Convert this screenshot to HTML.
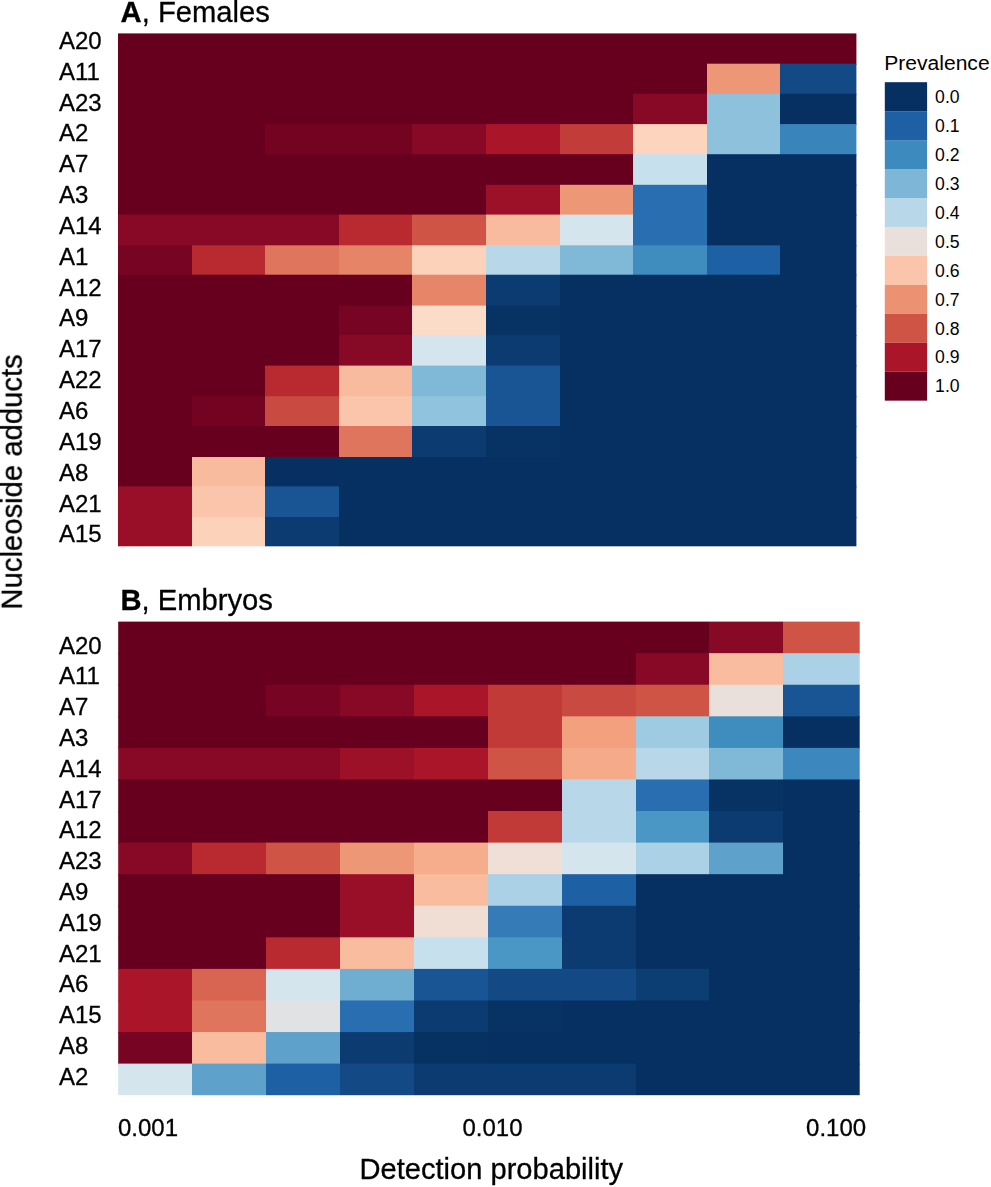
<!DOCTYPE html>
<html><head><meta charset="utf-8"><title>Heatmap</title>
<style>
html,body{margin:0;padding:0;background:#fff;}
body{width:991px;height:1187px;overflow:hidden;}
svg{display:block;font-family:"Liberation Sans",sans-serif;}
text{fill:#000;}
.gs{opacity:0.999;}
.gs text{stroke:#000;stroke-width:0.3px;}
</style></head><body>
<svg width="991" height="1187" viewBox="0 0 991 1187">
<rect x="0" y="0" width="991" height="1187" fill="#fff"/>
<defs><linearGradient id="a1" gradientUnits="userSpaceOnUse" x1="118.00" y1="0" x2="856.40" y2="0"><stop offset="0.00000" stop-color="#67001F"/><stop offset="0.79740" stop-color="#67001F"/><stop offset="0.79740" stop-color="#EE9776"/><stop offset="0.89707" stop-color="#EE9776"/><stop offset="0.89707" stop-color="#134A86"/><stop offset="1.00000" stop-color="#134A86"/></linearGradient>
<linearGradient id="a2" gradientUnits="userSpaceOnUse" x1="118.00" y1="0" x2="856.40" y2="0"><stop offset="0.00000" stop-color="#67001F"/><stop offset="0.69772" stop-color="#67001F"/><stop offset="0.69772" stop-color="#880925"/><stop offset="0.79740" stop-color="#880925"/><stop offset="0.79740" stop-color="#8DC1DC"/><stop offset="0.89707" stop-color="#8DC1DC"/><stop offset="0.89707" stop-color="#053061"/><stop offset="1.00000" stop-color="#053061"/></linearGradient>
<linearGradient id="a3" gradientUnits="userSpaceOnUse" x1="118.00" y1="0" x2="856.40" y2="0"><stop offset="0.00000" stop-color="#67001F"/><stop offset="0.19935" stop-color="#67001F"/><stop offset="0.19935" stop-color="#740321"/><stop offset="0.39870" stop-color="#740321"/><stop offset="0.39870" stop-color="#880925"/><stop offset="0.49837" stop-color="#880925"/><stop offset="0.49837" stop-color="#AA152A"/><stop offset="0.59805" stop-color="#AA152A"/><stop offset="0.59805" stop-color="#C23D39"/><stop offset="0.69772" stop-color="#C23D39"/><stop offset="0.69772" stop-color="#FDD5BF"/><stop offset="0.79740" stop-color="#FDD5BF"/><stop offset="0.79740" stop-color="#8DC1DC"/><stop offset="0.89707" stop-color="#8DC1DC"/><stop offset="0.89707" stop-color="#3A84BC"/><stop offset="1.00000" stop-color="#3A84BC"/></linearGradient>
<linearGradient id="a4" gradientUnits="userSpaceOnUse" x1="118.00" y1="0" x2="856.40" y2="0"><stop offset="0.00000" stop-color="#67001F"/><stop offset="0.69772" stop-color="#67001F"/><stop offset="0.69772" stop-color="#C7E0ED"/><stop offset="0.79740" stop-color="#C7E0ED"/><stop offset="0.79740" stop-color="#053061"/><stop offset="1.00000" stop-color="#053061"/></linearGradient>
<linearGradient id="a5" gradientUnits="userSpaceOnUse" x1="118.00" y1="0" x2="856.40" y2="0"><stop offset="0.00000" stop-color="#67001F"/><stop offset="0.49837" stop-color="#67001F"/><stop offset="0.49837" stop-color="#9C1128"/><stop offset="0.59805" stop-color="#9C1128"/><stop offset="0.59805" stop-color="#EE9776"/><stop offset="0.69772" stop-color="#EE9776"/><stop offset="0.69772" stop-color="#296EB0"/><stop offset="0.79740" stop-color="#296EB0"/><stop offset="0.79740" stop-color="#053061"/><stop offset="1.00000" stop-color="#053061"/></linearGradient>
<linearGradient id="a6" gradientUnits="userSpaceOnUse" x1="118.00" y1="0" x2="856.40" y2="0"><stop offset="0.00000" stop-color="#880925"/><stop offset="0.29902" stop-color="#880925"/><stop offset="0.29902" stop-color="#B82930"/><stop offset="0.39870" stop-color="#B82930"/><stop offset="0.39870" stop-color="#CF5446"/><stop offset="0.49837" stop-color="#CF5446"/><stop offset="0.49837" stop-color="#F9BB9D"/><stop offset="0.59805" stop-color="#F9BB9D"/><stop offset="0.59805" stop-color="#D4E5EE"/><stop offset="0.69772" stop-color="#D4E5EE"/><stop offset="0.69772" stop-color="#296EB0"/><stop offset="0.79740" stop-color="#296EB0"/><stop offset="0.79740" stop-color="#053061"/><stop offset="1.00000" stop-color="#053061"/></linearGradient>
<linearGradient id="a7" gradientUnits="userSpaceOnUse" x1="118.00" y1="0" x2="856.40" y2="0"><stop offset="0.00000" stop-color="#770422"/><stop offset="0.09967" stop-color="#770422"/><stop offset="0.09967" stop-color="#B82930"/><stop offset="0.19935" stop-color="#B82930"/><stop offset="0.19935" stop-color="#DF755C"/><stop offset="0.29902" stop-color="#DF755C"/><stop offset="0.29902" stop-color="#E68468"/><stop offset="0.39870" stop-color="#E68468"/><stop offset="0.39870" stop-color="#FCD2BB"/><stop offset="0.49837" stop-color="#FCD2BB"/><stop offset="0.49837" stop-color="#B8D8E9"/><stop offset="0.59805" stop-color="#B8D8E9"/><stop offset="0.59805" stop-color="#80B8D7"/><stop offset="0.69772" stop-color="#80B8D7"/><stop offset="0.69772" stop-color="#3F8CBF"/><stop offset="0.79740" stop-color="#3F8CBF"/><stop offset="0.79740" stop-color="#1E60A4"/><stop offset="0.89707" stop-color="#1E60A4"/><stop offset="0.89707" stop-color="#053061"/><stop offset="1.00000" stop-color="#053061"/></linearGradient>
<linearGradient id="a8" gradientUnits="userSpaceOnUse" x1="118.00" y1="0" x2="856.40" y2="0"><stop offset="0.00000" stop-color="#67001F"/><stop offset="0.39870" stop-color="#67001F"/><stop offset="0.39870" stop-color="#E78568"/><stop offset="0.49837" stop-color="#E78568"/><stop offset="0.49837" stop-color="#0B3B71"/><stop offset="0.59805" stop-color="#0B3B71"/><stop offset="0.59805" stop-color="#053061"/><stop offset="1.00000" stop-color="#053061"/></linearGradient>
<linearGradient id="a9" gradientUnits="userSpaceOnUse" x1="118.00" y1="0" x2="856.40" y2="0"><stop offset="0.00000" stop-color="#67001F"/><stop offset="0.29902" stop-color="#67001F"/><stop offset="0.29902" stop-color="#770422"/><stop offset="0.39870" stop-color="#770422"/><stop offset="0.39870" stop-color="#FBDCC9"/><stop offset="0.49837" stop-color="#FBDCC9"/><stop offset="0.49837" stop-color="#063264"/><stop offset="0.59805" stop-color="#063264"/><stop offset="0.59805" stop-color="#053061"/><stop offset="1.00000" stop-color="#053061"/></linearGradient>
<linearGradient id="a10" gradientUnits="userSpaceOnUse" x1="118.00" y1="0" x2="856.40" y2="0"><stop offset="0.00000" stop-color="#67001F"/><stop offset="0.29902" stop-color="#67001F"/><stop offset="0.29902" stop-color="#880925"/><stop offset="0.39870" stop-color="#880925"/><stop offset="0.39870" stop-color="#D4E5EE"/><stop offset="0.49837" stop-color="#D4E5EE"/><stop offset="0.49837" stop-color="#0B3B71"/><stop offset="0.59805" stop-color="#0B3B71"/><stop offset="0.59805" stop-color="#053061"/><stop offset="1.00000" stop-color="#053061"/></linearGradient>
<linearGradient id="a11" gradientUnits="userSpaceOnUse" x1="118.00" y1="0" x2="856.40" y2="0"><stop offset="0.00000" stop-color="#67001F"/><stop offset="0.19935" stop-color="#67001F"/><stop offset="0.19935" stop-color="#B82930"/><stop offset="0.29902" stop-color="#B82930"/><stop offset="0.29902" stop-color="#F9BB9D"/><stop offset="0.39870" stop-color="#F9BB9D"/><stop offset="0.39870" stop-color="#80B8D7"/><stop offset="0.49837" stop-color="#80B8D7"/><stop offset="0.49837" stop-color="#195595"/><stop offset="0.59805" stop-color="#195595"/><stop offset="0.59805" stop-color="#053061"/><stop offset="1.00000" stop-color="#053061"/></linearGradient>
<linearGradient id="a12" gradientUnits="userSpaceOnUse" x1="118.00" y1="0" x2="856.40" y2="0"><stop offset="0.00000" stop-color="#67001F"/><stop offset="0.09967" stop-color="#67001F"/><stop offset="0.09967" stop-color="#740321"/><stop offset="0.19935" stop-color="#740321"/><stop offset="0.19935" stop-color="#C94A40"/><stop offset="0.29902" stop-color="#C94A40"/><stop offset="0.29902" stop-color="#FBC5AB"/><stop offset="0.39870" stop-color="#FBC5AB"/><stop offset="0.39870" stop-color="#90C3DD"/><stop offset="0.49837" stop-color="#90C3DD"/><stop offset="0.49837" stop-color="#195595"/><stop offset="0.59805" stop-color="#195595"/><stop offset="0.59805" stop-color="#053061"/><stop offset="1.00000" stop-color="#053061"/></linearGradient>
<linearGradient id="a13" gradientUnits="userSpaceOnUse" x1="118.00" y1="0" x2="856.40" y2="0"><stop offset="0.00000" stop-color="#67001F"/><stop offset="0.29902" stop-color="#67001F"/><stop offset="0.29902" stop-color="#DF755C"/><stop offset="0.39870" stop-color="#DF755C"/><stop offset="0.39870" stop-color="#0B3B71"/><stop offset="0.49837" stop-color="#0B3B71"/><stop offset="0.49837" stop-color="#063264"/><stop offset="0.59805" stop-color="#063264"/><stop offset="0.59805" stop-color="#053061"/><stop offset="1.00000" stop-color="#053061"/></linearGradient>
<linearGradient id="a14" gradientUnits="userSpaceOnUse" x1="118.00" y1="0" x2="856.40" y2="0"><stop offset="0.00000" stop-color="#67001F"/><stop offset="0.09967" stop-color="#67001F"/><stop offset="0.09967" stop-color="#F9BB9D"/><stop offset="0.19935" stop-color="#F9BB9D"/><stop offset="0.19935" stop-color="#053061"/><stop offset="1.00000" stop-color="#053061"/></linearGradient>
<linearGradient id="a15" gradientUnits="userSpaceOnUse" x1="118.00" y1="0" x2="856.40" y2="0"><stop offset="0.00000" stop-color="#990F27"/><stop offset="0.09967" stop-color="#990F27"/><stop offset="0.09967" stop-color="#FBC5AB"/><stop offset="0.19935" stop-color="#FBC5AB"/><stop offset="0.19935" stop-color="#195595"/><stop offset="0.29902" stop-color="#195595"/><stop offset="0.29902" stop-color="#053061"/><stop offset="1.00000" stop-color="#053061"/></linearGradient>
<linearGradient id="a16" gradientUnits="userSpaceOnUse" x1="118.00" y1="0" x2="856.40" y2="0"><stop offset="0.00000" stop-color="#990F27"/><stop offset="0.09967" stop-color="#990F27"/><stop offset="0.09967" stop-color="#FCD2BB"/><stop offset="0.19935" stop-color="#FCD2BB"/><stop offset="0.19935" stop-color="#0B3B71"/><stop offset="0.29902" stop-color="#0B3B71"/><stop offset="0.29902" stop-color="#053061"/><stop offset="1.00000" stop-color="#053061"/></linearGradient>
<linearGradient id="b0" gradientUnits="userSpaceOnUse" x1="118.20" y1="0" x2="859.70" y2="0"><stop offset="0.00000" stop-color="#67001F"/><stop offset="0.79730" stop-color="#67001F"/><stop offset="0.79730" stop-color="#880925"/><stop offset="0.89697" stop-color="#880925"/><stop offset="0.89697" stop-color="#CF5446"/><stop offset="1.00000" stop-color="#CF5446"/></linearGradient>
<linearGradient id="b1" gradientUnits="userSpaceOnUse" x1="118.20" y1="0" x2="859.70" y2="0"><stop offset="0.00000" stop-color="#67001F"/><stop offset="0.69764" stop-color="#67001F"/><stop offset="0.69764" stop-color="#880925"/><stop offset="0.79730" stop-color="#880925"/><stop offset="0.79730" stop-color="#F9BC9F"/><stop offset="0.89697" stop-color="#F9BC9F"/><stop offset="0.89697" stop-color="#AAD1E5"/><stop offset="1.00000" stop-color="#AAD1E5"/></linearGradient>
<linearGradient id="b2" gradientUnits="userSpaceOnUse" x1="118.20" y1="0" x2="859.70" y2="0"><stop offset="0.00000" stop-color="#67001F"/><stop offset="0.19933" stop-color="#67001F"/><stop offset="0.19933" stop-color="#770422"/><stop offset="0.29899" stop-color="#770422"/><stop offset="0.29899" stop-color="#880925"/><stop offset="0.39865" stop-color="#880925"/><stop offset="0.39865" stop-color="#AA152A"/><stop offset="0.49831" stop-color="#AA152A"/><stop offset="0.49831" stop-color="#C13A38"/><stop offset="0.59798" stop-color="#C13A38"/><stop offset="0.59798" stop-color="#C94A40"/><stop offset="0.69764" stop-color="#C94A40"/><stop offset="0.69764" stop-color="#CF5446"/><stop offset="0.79730" stop-color="#CF5446"/><stop offset="0.79730" stop-color="#E9E0DB"/><stop offset="0.89697" stop-color="#E9E0DB"/><stop offset="0.89697" stop-color="#195595"/><stop offset="1.00000" stop-color="#195595"/></linearGradient>
<linearGradient id="b3" gradientUnits="userSpaceOnUse" x1="118.20" y1="0" x2="859.70" y2="0"><stop offset="0.00000" stop-color="#67001F"/><stop offset="0.49831" stop-color="#67001F"/><stop offset="0.49831" stop-color="#C13A38"/><stop offset="0.59798" stop-color="#C13A38"/><stop offset="0.59798" stop-color="#F2A07E"/><stop offset="0.69764" stop-color="#F2A07E"/><stop offset="0.69764" stop-color="#9FCBE2"/><stop offset="0.79730" stop-color="#9FCBE2"/><stop offset="0.79730" stop-color="#3F8CBF"/><stop offset="0.89697" stop-color="#3F8CBF"/><stop offset="0.89697" stop-color="#053061"/><stop offset="1.00000" stop-color="#053061"/></linearGradient>
<linearGradient id="b4" gradientUnits="userSpaceOnUse" x1="118.20" y1="0" x2="859.70" y2="0"><stop offset="0.00000" stop-color="#880925"/><stop offset="0.29899" stop-color="#880925"/><stop offset="0.29899" stop-color="#9C1128"/><stop offset="0.39865" stop-color="#9C1128"/><stop offset="0.39865" stop-color="#AA152A"/><stop offset="0.49831" stop-color="#AA152A"/><stop offset="0.49831" stop-color="#CF5446"/><stop offset="0.59798" stop-color="#CF5446"/><stop offset="0.59798" stop-color="#F5AB89"/><stop offset="0.69764" stop-color="#F5AB89"/><stop offset="0.69764" stop-color="#B8D8E9"/><stop offset="0.79730" stop-color="#B8D8E9"/><stop offset="0.79730" stop-color="#80B8D7"/><stop offset="0.89697" stop-color="#80B8D7"/><stop offset="0.89697" stop-color="#3C87BD"/><stop offset="1.00000" stop-color="#3C87BD"/></linearGradient>
<linearGradient id="b5" gradientUnits="userSpaceOnUse" x1="118.20" y1="0" x2="859.70" y2="0"><stop offset="0.00000" stop-color="#67001F"/><stop offset="0.59798" stop-color="#67001F"/><stop offset="0.59798" stop-color="#B8D8E9"/><stop offset="0.69764" stop-color="#B8D8E9"/><stop offset="0.69764" stop-color="#296EB0"/><stop offset="0.79730" stop-color="#296EB0"/><stop offset="0.79730" stop-color="#063264"/><stop offset="0.89697" stop-color="#063264"/><stop offset="0.89697" stop-color="#053061"/><stop offset="1.00000" stop-color="#053061"/></linearGradient>
<linearGradient id="b6" gradientUnits="userSpaceOnUse" x1="118.20" y1="0" x2="859.70" y2="0"><stop offset="0.00000" stop-color="#67001F"/><stop offset="0.49831" stop-color="#67001F"/><stop offset="0.49831" stop-color="#C13A38"/><stop offset="0.59798" stop-color="#C13A38"/><stop offset="0.59798" stop-color="#B8D8E9"/><stop offset="0.69764" stop-color="#B8D8E9"/><stop offset="0.69764" stop-color="#4A96C5"/><stop offset="0.79730" stop-color="#4A96C5"/><stop offset="0.79730" stop-color="#0B3B71"/><stop offset="0.89697" stop-color="#0B3B71"/><stop offset="0.89697" stop-color="#053061"/><stop offset="1.00000" stop-color="#053061"/></linearGradient>
<linearGradient id="b7" gradientUnits="userSpaceOnUse" x1="118.20" y1="0" x2="859.70" y2="0"><stop offset="0.00000" stop-color="#880925"/><stop offset="0.09966" stop-color="#880925"/><stop offset="0.09966" stop-color="#B82930"/><stop offset="0.19933" stop-color="#B82930"/><stop offset="0.19933" stop-color="#CF5446"/><stop offset="0.29899" stop-color="#CF5446"/><stop offset="0.29899" stop-color="#EE9776"/><stop offset="0.39865" stop-color="#EE9776"/><stop offset="0.39865" stop-color="#F6AD8C"/><stop offset="0.49831" stop-color="#F6AD8C"/><stop offset="0.49831" stop-color="#EFDFD6"/><stop offset="0.59798" stop-color="#EFDFD6"/><stop offset="0.59798" stop-color="#D4E5EE"/><stop offset="0.69764" stop-color="#D4E5EE"/><stop offset="0.69764" stop-color="#AAD1E5"/><stop offset="0.79730" stop-color="#AAD1E5"/><stop offset="0.79730" stop-color="#5EA1CB"/><stop offset="0.89697" stop-color="#5EA1CB"/><stop offset="0.89697" stop-color="#053061"/><stop offset="1.00000" stop-color="#053061"/></linearGradient>
<linearGradient id="b8" gradientUnits="userSpaceOnUse" x1="118.20" y1="0" x2="859.70" y2="0"><stop offset="0.00000" stop-color="#67001F"/><stop offset="0.29899" stop-color="#67001F"/><stop offset="0.29899" stop-color="#990F27"/><stop offset="0.39865" stop-color="#990F27"/><stop offset="0.39865" stop-color="#F9BC9F"/><stop offset="0.49831" stop-color="#F9BC9F"/><stop offset="0.49831" stop-color="#AAD1E5"/><stop offset="0.59798" stop-color="#AAD1E5"/><stop offset="0.59798" stop-color="#1E60A4"/><stop offset="0.69764" stop-color="#1E60A4"/><stop offset="0.69764" stop-color="#053061"/><stop offset="1.00000" stop-color="#053061"/></linearGradient>
<linearGradient id="b9" gradientUnits="userSpaceOnUse" x1="118.20" y1="0" x2="859.70" y2="0"><stop offset="0.00000" stop-color="#67001F"/><stop offset="0.29899" stop-color="#67001F"/><stop offset="0.29899" stop-color="#990F27"/><stop offset="0.39865" stop-color="#990F27"/><stop offset="0.39865" stop-color="#F0DED4"/><stop offset="0.49831" stop-color="#F0DED4"/><stop offset="0.49831" stop-color="#347BB7"/><stop offset="0.59798" stop-color="#347BB7"/><stop offset="0.59798" stop-color="#0B3B71"/><stop offset="0.69764" stop-color="#0B3B71"/><stop offset="0.69764" stop-color="#053061"/><stop offset="1.00000" stop-color="#053061"/></linearGradient>
<linearGradient id="b10" gradientUnits="userSpaceOnUse" x1="118.20" y1="0" x2="859.70" y2="0"><stop offset="0.00000" stop-color="#67001F"/><stop offset="0.19933" stop-color="#67001F"/><stop offset="0.19933" stop-color="#B82930"/><stop offset="0.29899" stop-color="#B82930"/><stop offset="0.29899" stop-color="#F9BC9F"/><stop offset="0.39865" stop-color="#F9BC9F"/><stop offset="0.39865" stop-color="#C7E0ED"/><stop offset="0.49831" stop-color="#C7E0ED"/><stop offset="0.49831" stop-color="#4A96C5"/><stop offset="0.59798" stop-color="#4A96C5"/><stop offset="0.59798" stop-color="#0B3B71"/><stop offset="0.69764" stop-color="#0B3B71"/><stop offset="0.69764" stop-color="#053061"/><stop offset="1.00000" stop-color="#053061"/></linearGradient>
<linearGradient id="b11" gradientUnits="userSpaceOnUse" x1="118.20" y1="0" x2="859.70" y2="0"><stop offset="0.00000" stop-color="#AA152A"/><stop offset="0.09966" stop-color="#AA152A"/><stop offset="0.09966" stop-color="#D86551"/><stop offset="0.19933" stop-color="#D86551"/><stop offset="0.19933" stop-color="#D4E5EE"/><stop offset="0.29899" stop-color="#D4E5EE"/><stop offset="0.29899" stop-color="#6FADD1"/><stop offset="0.39865" stop-color="#6FADD1"/><stop offset="0.39865" stop-color="#195595"/><stop offset="0.49831" stop-color="#195595"/><stop offset="0.49831" stop-color="#134A85"/><stop offset="0.69764" stop-color="#134A85"/><stop offset="0.69764" stop-color="#0C3E74"/><stop offset="0.79730" stop-color="#0C3E74"/><stop offset="0.79730" stop-color="#053061"/><stop offset="1.00000" stop-color="#053061"/></linearGradient>
<linearGradient id="b12" gradientUnits="userSpaceOnUse" x1="118.20" y1="0" x2="859.70" y2="0"><stop offset="0.00000" stop-color="#AA152A"/><stop offset="0.09966" stop-color="#AA152A"/><stop offset="0.09966" stop-color="#DF755C"/><stop offset="0.19933" stop-color="#DF755C"/><stop offset="0.19933" stop-color="#E1E2E3"/><stop offset="0.29899" stop-color="#E1E2E3"/><stop offset="0.29899" stop-color="#296EB0"/><stop offset="0.39865" stop-color="#296EB0"/><stop offset="0.39865" stop-color="#0B3B71"/><stop offset="0.49831" stop-color="#0B3B71"/><stop offset="0.49831" stop-color="#063264"/><stop offset="0.59798" stop-color="#063264"/><stop offset="0.59798" stop-color="#053061"/><stop offset="1.00000" stop-color="#053061"/></linearGradient>
<linearGradient id="b13" gradientUnits="userSpaceOnUse" x1="118.20" y1="0" x2="859.70" y2="0"><stop offset="0.00000" stop-color="#770422"/><stop offset="0.09966" stop-color="#770422"/><stop offset="0.09966" stop-color="#F9BC9F"/><stop offset="0.19933" stop-color="#F9BC9F"/><stop offset="0.19933" stop-color="#5EA1CB"/><stop offset="0.29899" stop-color="#5EA1CB"/><stop offset="0.29899" stop-color="#0B3B71"/><stop offset="0.39865" stop-color="#0B3B71"/><stop offset="0.39865" stop-color="#063163"/><stop offset="0.49831" stop-color="#063163"/><stop offset="0.49831" stop-color="#053061"/><stop offset="1.00000" stop-color="#053061"/></linearGradient>
<linearGradient id="b14" gradientUnits="userSpaceOnUse" x1="118.20" y1="0" x2="859.70" y2="0"><stop offset="0.00000" stop-color="#D4E5EE"/><stop offset="0.09966" stop-color="#D4E5EE"/><stop offset="0.09966" stop-color="#5EA1CB"/><stop offset="0.19933" stop-color="#5EA1CB"/><stop offset="0.19933" stop-color="#1E60A4"/><stop offset="0.29899" stop-color="#1E60A4"/><stop offset="0.29899" stop-color="#134A85"/><stop offset="0.39865" stop-color="#134A85"/><stop offset="0.39865" stop-color="#0B3B71"/><stop offset="0.69764" stop-color="#0B3B71"/><stop offset="0.69764" stop-color="#053061"/><stop offset="1.00000" stop-color="#053061"/></linearGradient></defs>
<rect x="118.00" y="33.40" width="738.40" height="31.30" fill="#67001F"/>
<rect x="118.00" y="63.70" width="738.40" height="31.00" fill="url(#a1)"/>
<rect x="118.00" y="93.70" width="738.40" height="31.40" fill="url(#a2)"/>
<rect x="118.00" y="124.10" width="738.40" height="31.10" fill="url(#a3)"/>
<rect x="118.00" y="154.20" width="738.40" height="31.60" fill="url(#a4)"/>
<rect x="118.00" y="184.80" width="738.40" height="30.80" fill="url(#a5)"/>
<rect x="118.00" y="214.60" width="738.40" height="31.70" fill="url(#a6)"/>
<rect x="118.00" y="245.30" width="738.40" height="30.40" fill="url(#a7)"/>
<rect x="118.00" y="274.70" width="738.40" height="31.90" fill="url(#a8)"/>
<rect x="118.00" y="305.60" width="738.40" height="30.60" fill="url(#a9)"/>
<rect x="118.00" y="335.20" width="738.40" height="31.40" fill="url(#a10)"/>
<rect x="118.00" y="365.60" width="738.40" height="31.60" fill="url(#a11)"/>
<rect x="118.00" y="396.20" width="738.40" height="30.80" fill="url(#a12)"/>
<rect x="118.00" y="426.00" width="738.40" height="32.00" fill="url(#a13)"/>
<rect x="118.00" y="457.00" width="738.40" height="30.40" fill="url(#a14)"/>
<rect x="118.00" y="486.40" width="738.40" height="31.60" fill="url(#a15)"/>
<rect x="118.00" y="517.00" width="738.40" height="29.30" fill="url(#a16)"/>
<rect x="118.20" y="621.60" width="741.50" height="32.57" fill="url(#b0)"/>
<rect x="118.20" y="653.17" width="741.50" height="32.57" fill="url(#b1)"/>
<rect x="118.20" y="684.75" width="741.50" height="32.57" fill="url(#b2)"/>
<rect x="118.20" y="716.32" width="741.50" height="32.57" fill="url(#b3)"/>
<rect x="118.20" y="747.89" width="741.50" height="32.57" fill="url(#b4)"/>
<rect x="118.20" y="779.47" width="741.50" height="32.57" fill="url(#b5)"/>
<rect x="118.20" y="811.04" width="741.50" height="32.57" fill="url(#b6)"/>
<rect x="118.20" y="842.61" width="741.50" height="32.57" fill="url(#b7)"/>
<rect x="118.20" y="874.18" width="741.50" height="32.57" fill="url(#b8)"/>
<rect x="118.20" y="905.76" width="741.50" height="32.57" fill="url(#b9)"/>
<rect x="118.20" y="937.33" width="741.50" height="32.57" fill="url(#b10)"/>
<rect x="118.20" y="968.90" width="741.50" height="32.57" fill="url(#b11)"/>
<rect x="118.20" y="1000.48" width="741.50" height="32.57" fill="url(#b12)"/>
<rect x="118.20" y="1032.05" width="741.50" height="32.57" fill="url(#b13)"/>
<rect x="118.20" y="1063.62" width="741.50" height="31.57" fill="url(#b14)"/>
<rect x="884.80" y="82.20" width="42.30" height="28.95" fill="#053061"/>
<rect x="884.80" y="111.15" width="42.30" height="28.95" fill="#1E60A4"/>
<rect x="884.80" y="140.10" width="42.30" height="28.95" fill="#3D8ABE"/>
<rect x="884.80" y="169.05" width="42.30" height="28.95" fill="#7DB6D6"/>
<rect x="884.80" y="198.00" width="42.30" height="28.95" fill="#B8D8E9"/>
<rect x="884.80" y="226.95" width="42.30" height="28.95" fill="#E9E0DB"/>
<rect x="884.80" y="255.90" width="42.30" height="28.95" fill="#FBC5AB"/>
<rect x="884.80" y="284.85" width="42.30" height="28.95" fill="#EC9172"/>
<rect x="884.80" y="313.80" width="42.30" height="28.95" fill="#CF5446"/>
<rect x="884.80" y="342.75" width="42.30" height="28.95" fill="#AA152A"/>
<rect x="884.80" y="371.70" width="42.30" height="28.95" fill="#67001F"/>
<g class="gs">
<text x="59.00" y="48.90" font-size="24.00px" >A20</text>
<text x="59.00" y="79.74" font-size="24.00px" >A11</text>
<text x="59.00" y="110.58" font-size="24.00px" >A23</text>
<text x="59.00" y="141.42" font-size="24.00px" >A2</text>
<text x="59.00" y="172.26" font-size="24.00px" >A7</text>
<text x="59.00" y="203.10" font-size="24.00px" >A3</text>
<text x="59.00" y="233.94" font-size="24.00px" >A14</text>
<text x="59.00" y="264.78" font-size="24.00px" >A1</text>
<text x="59.00" y="295.62" font-size="24.00px" >A12</text>
<text x="59.00" y="326.46" font-size="24.00px" >A9</text>
<text x="59.00" y="357.30" font-size="24.00px" >A17</text>
<text x="59.00" y="388.14" font-size="24.00px" >A22</text>
<text x="59.00" y="418.98" font-size="24.00px" >A6</text>
<text x="59.00" y="449.82" font-size="24.00px" >A19</text>
<text x="59.00" y="480.66" font-size="24.00px" >A8</text>
<text x="59.00" y="511.50" font-size="24.00px" >A21</text>
<text x="59.00" y="542.34" font-size="24.00px" >A15</text>
<text x="59.00" y="653.70" font-size="24.00px" >A20</text>
<text x="59.00" y="684.48" font-size="24.00px" >A11</text>
<text x="59.00" y="715.26" font-size="24.00px" >A7</text>
<text x="59.00" y="746.04" font-size="24.00px" >A3</text>
<text x="59.00" y="776.82" font-size="24.00px" >A14</text>
<text x="59.00" y="807.60" font-size="24.00px" >A17</text>
<text x="59.00" y="838.38" font-size="24.00px" >A12</text>
<text x="59.00" y="869.16" font-size="24.00px" >A23</text>
<text x="59.00" y="899.94" font-size="24.00px" >A9</text>
<text x="59.00" y="930.72" font-size="24.00px" >A19</text>
<text x="59.00" y="961.50" font-size="24.00px" >A21</text>
<text x="59.00" y="992.28" font-size="24.00px" >A6</text>
<text x="59.00" y="1023.06" font-size="24.00px" >A15</text>
<text x="59.00" y="1053.84" font-size="24.00px" >A8</text>
<text x="59.00" y="1084.62" font-size="24.00px" >A2</text>
<text x="120.60" y="21.60" font-size="29.20px" ><tspan font-weight="bold">A</tspan>, Females</text>
<text x="120.40" y="609.80" font-size="29.20px" ><tspan font-weight="bold">B</tspan>, Embryos</text>
<text x="148.00" y="1136.00" font-size="24.00px" text-anchor="middle">0.001</text>
<text x="492.50" y="1136.00" font-size="24.00px" text-anchor="middle">0.010</text>
<text x="836.10" y="1136.00" font-size="24.00px" text-anchor="middle">0.100</text>
<text x="491.30" y="1179.20" font-size="29.10px" text-anchor="middle">Detection probability</text>
<text transform="translate(21.8,481.9) rotate(-90)" font-size="29.25px" text-anchor="middle">Nucleoside adducts</text>
</g>
<g>
<text x="884.30" y="70.30" font-size="21.05px" fill="#3c3c46">Prevalence</text>
<text x="935.10" y="102.90" font-size="17.60px" fill="#33333d">0.0</text>
<text x="935.10" y="131.85" font-size="17.60px" fill="#33333d">0.1</text>
<text x="935.10" y="160.80" font-size="17.60px" fill="#33333d">0.2</text>
<text x="935.10" y="189.75" font-size="17.60px" fill="#33333d">0.3</text>
<text x="935.10" y="218.70" font-size="17.60px" fill="#33333d">0.4</text>
<text x="935.10" y="247.65" font-size="17.60px" fill="#33333d">0.5</text>
<text x="935.10" y="276.60" font-size="17.60px" fill="#33333d">0.6</text>
<text x="935.10" y="305.55" font-size="17.60px" fill="#33333d">0.7</text>
<text x="935.10" y="334.50" font-size="17.60px" fill="#33333d">0.8</text>
<text x="935.10" y="363.45" font-size="17.60px" fill="#33333d">0.9</text>
<text x="935.10" y="392.40" font-size="17.60px" fill="#33333d">1.0</text>
</g>
</svg>
</body></html>
